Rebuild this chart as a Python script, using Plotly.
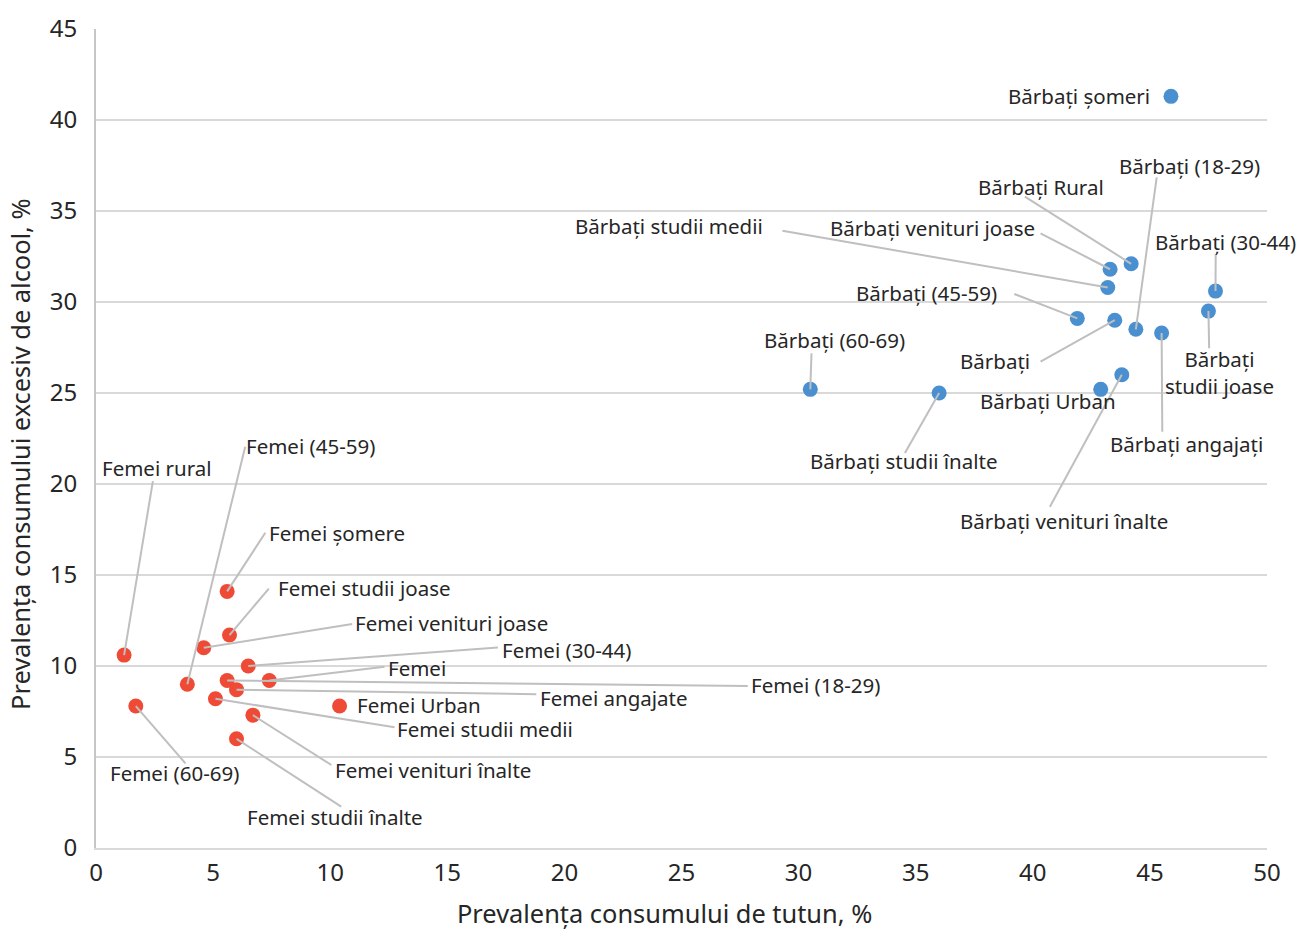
import plotly.graph_objects as go

# --- data: tobacco (x) vs heavy alcohol use (y), %
men_labels = ["Bărbați șomeri", "Bărbați Rural", "Bărbați (18-29)", "Bărbați venituri joase",
              "Bărbați studii medii", "Bărbați (30-44)", "Bărbați studii joase", "Bărbați (45-59)",
              "Bărbați", "Bărbați angajați", "Bărbați venituri înalte", "Bărbați Urban",
              "Bărbați studii înalte", "Bărbați (60-69)"]
men_tobacco = [45.9, 44.2, 44.4, 43.3, 43.2, 47.8, 47.5, 41.9, 43.5, 45.5, 43.8, 42.9, 36.0, 30.5]
men_alcohol = [41.3, 32.1, 28.5, 31.8, 30.8, 30.6, 29.5, 29.1, 29.0, 28.3, 26.0, 25.2, 25.0, 25.2]

women_labels = ["Femei rural", "Femei (45-59)", "Femei șomere", "Femei studii joase",
                "Femei venituri joase", "Femei (30-44)", "Femei", "Femei (18-29)",
                "Femei angajate", "Femei Urban", "Femei studii medii", "Femei venituri înalte",
                "Femei studii înalte", "Femei (60-69)"]
women_tobacco = [1.2, 3.9, 5.6, 5.7, 4.6, 6.5, 7.4, 5.6, 6.0, 10.4, 5.1, 6.7, 6.0, 1.7]
women_alcohol = [10.6, 9.0, 14.1, 11.7, 11.0, 10.0, 9.2, 9.2, 8.7, 7.8, 8.2, 7.3, 6.0, 7.8]

x_title = "Prevalența consumului de tutun, %"
y_title = "Prevalența consumului excesiv de alcool, %"

# --- label placement (text x, text y, xanchor, leader start x, leader start y)
label_pos = {
    "Bărbați șomeri": (45.1, 41.3, "right", None, None),
    "Bărbați Rural": (40.33, 36.34, "center", 39.66, 35.79),
    "Bărbați (18-29)": (46.69, 37.47, "center", 45.29, 36.85),
    "Bărbați venituri joase": (35.70, 34.07, "center", 40.33, 33.77),
    "Bărbați studii medii": (24.45, 34.18, "center", 29.31, 33.92),
    "Bărbați (30-44)": (48.21, 33.31, "center", 47.81, 32.64),
    "Bărbați studii joase": (47.99, 26.15, "center", 47.53, 27.46),
    "Bărbați (45-59)": (35.46, 30.48, "center", 39.21, 30.44),
    "Bărbați": (38.40, 26.77, "center", 40.33, 26.72),
    "Bărbați angajați": (46.57, 22.20, "center", 45.53, 22.87),
    "Bărbați venituri înalte": (41.34, 17.98, "center", 40.73, 18.75),
    "Bărbați Urban": (40.64, 24.56, "center", None, None),
    "Bărbați studii înalte": (34.52, 21.28, "center", 34.54, 21.70),
    "Bărbați (60-69)": (31.55, 27.91, "center", 30.55, 27.18),
    "Femei rural": (2.62, 20.90, "center", 2.43, 20.16),
    "Femei (45-59)": (9.17, 22.10, "center", 6.37, 22.05),
    "Femei șomere": (10.27, 17.29, "center", 7.23, 17.32),
    "Femei studii joase": (11.47, 14.30, "center", 7.38, 14.25),
    "Femei venituri joase": (15.16, 12.35, "center", 10.94, 12.31),
    "Femei (30-44)": (20.09, 10.88, "center", 17.16, 11.01),
    "Femei": (13.70, 9.87, "center", 12.32, 9.96),
    "Femei (18-29)": (30.73, 8.96, "center", 27.83, 8.90),
    "Femei angajate": (22.11, 8.26, "center", 18.80, 8.45),
    "Femei Urban": (11.08, 7.88, "left", None, None),
    "Femei studii medii": (16.63, 6.54, "center", 12.75, 6.64),
    "Femei venituri înalte": (14.37, 4.29, "center", 10.05, 4.56),
    "Femei studii înalte": (10.19, 1.70, "center", 10.47, 2.27),
    "Femei (60-69)": (3.37, 4.14, "center", 3.82, 4.65),
}

BLUE = "#4a8fd0"
RED = "#ef4a35"
TEXT = "#262626"
GRID = "#d9d9d9"
LEADER = "#bfbfbf"
FONT = "Noto Sans"

fig = go.Figure()
fig.add_trace(go.Scatter(x=men_tobacco, y=men_alcohol, mode="markers", text=men_labels,
                         marker=dict(color=BLUE, size=15), hoverinfo="text+x+y"))
fig.add_trace(go.Scatter(x=women_tobacco, y=women_alcohol, mode="markers", text=women_labels,
                         marker=dict(color=RED, size=15), hoverinfo="text+x+y"))

points = list(zip(men_labels, men_tobacco, men_alcohol)) + list(zip(women_labels, women_tobacco, women_alcohol))
for name, px, py in points:
    tx, ty, anchor, lx, ly = label_pos[name]
    if lx is not None:
        fig.add_shape(type="line", xref="x", yref="y", x0=lx, y0=ly, x1=px, y1=py,
                      line=dict(color=LEADER, width=2))
    text = "Bărbați<br>studii joase" if name == "Bărbați studii joase" else name
    fig.add_annotation(x=tx, y=ty, xref="x", yref="y", text=text, showarrow=False,
                       xanchor=anchor, yanchor="middle",
                       font=dict(family=FONT, size=20.5, color=TEXT))

# axis titles as annotations: in the original they sit a bit off-centre
fig.add_annotation(x=0.4855, y=-0.0795, xref="paper", yref="paper", text=x_title, showarrow=False,
                   xanchor="center", yanchor="middle", font=dict(family=FONT, size=25.4, color=TEXT))
fig.add_annotation(x=-0.065, y=0.481, xref="paper", yref="paper", text=y_title, showarrow=False,
                   textangle=-90, xanchor="center", yanchor="middle",
                   font=dict(family=FONT, size=25.4, color=TEXT))

fig.update_layout(
    width=1298, height=929,
    margin=dict(l=96, r=31, t=29, b=81),
    plot_bgcolor="white", paper_bgcolor="white",
    showlegend=False,
    font=dict(family=FONT, color=TEXT, size=24),
)
fig.update_xaxes(range=[0, 50], dtick=5, showgrid=False, zeroline=False, automargin=False,
                 showline=True, linecolor=GRID, linewidth=2,
                 ticks="", ticklabelstandoff=2,
                 tickfont=dict(size=24, color=TEXT))
fig.update_yaxes(range=[0, 45], dtick=5, showgrid=True, gridcolor=GRID, gridwidth=2, zeroline=False,
                 automargin=False,
                 showline=True, linecolor="#c6c6c6", linewidth=2,
                 ticks="", ticklabelstandoff=12,
                 tickfont=dict(size=24, color=TEXT))

# drop the default 8px page margin so the figure sits at the window's corner
fig.write_html("out.html", config={"displayModeBar": False},
               post_script="document.body.style.margin='0';document.body.style.overflow='hidden';")
